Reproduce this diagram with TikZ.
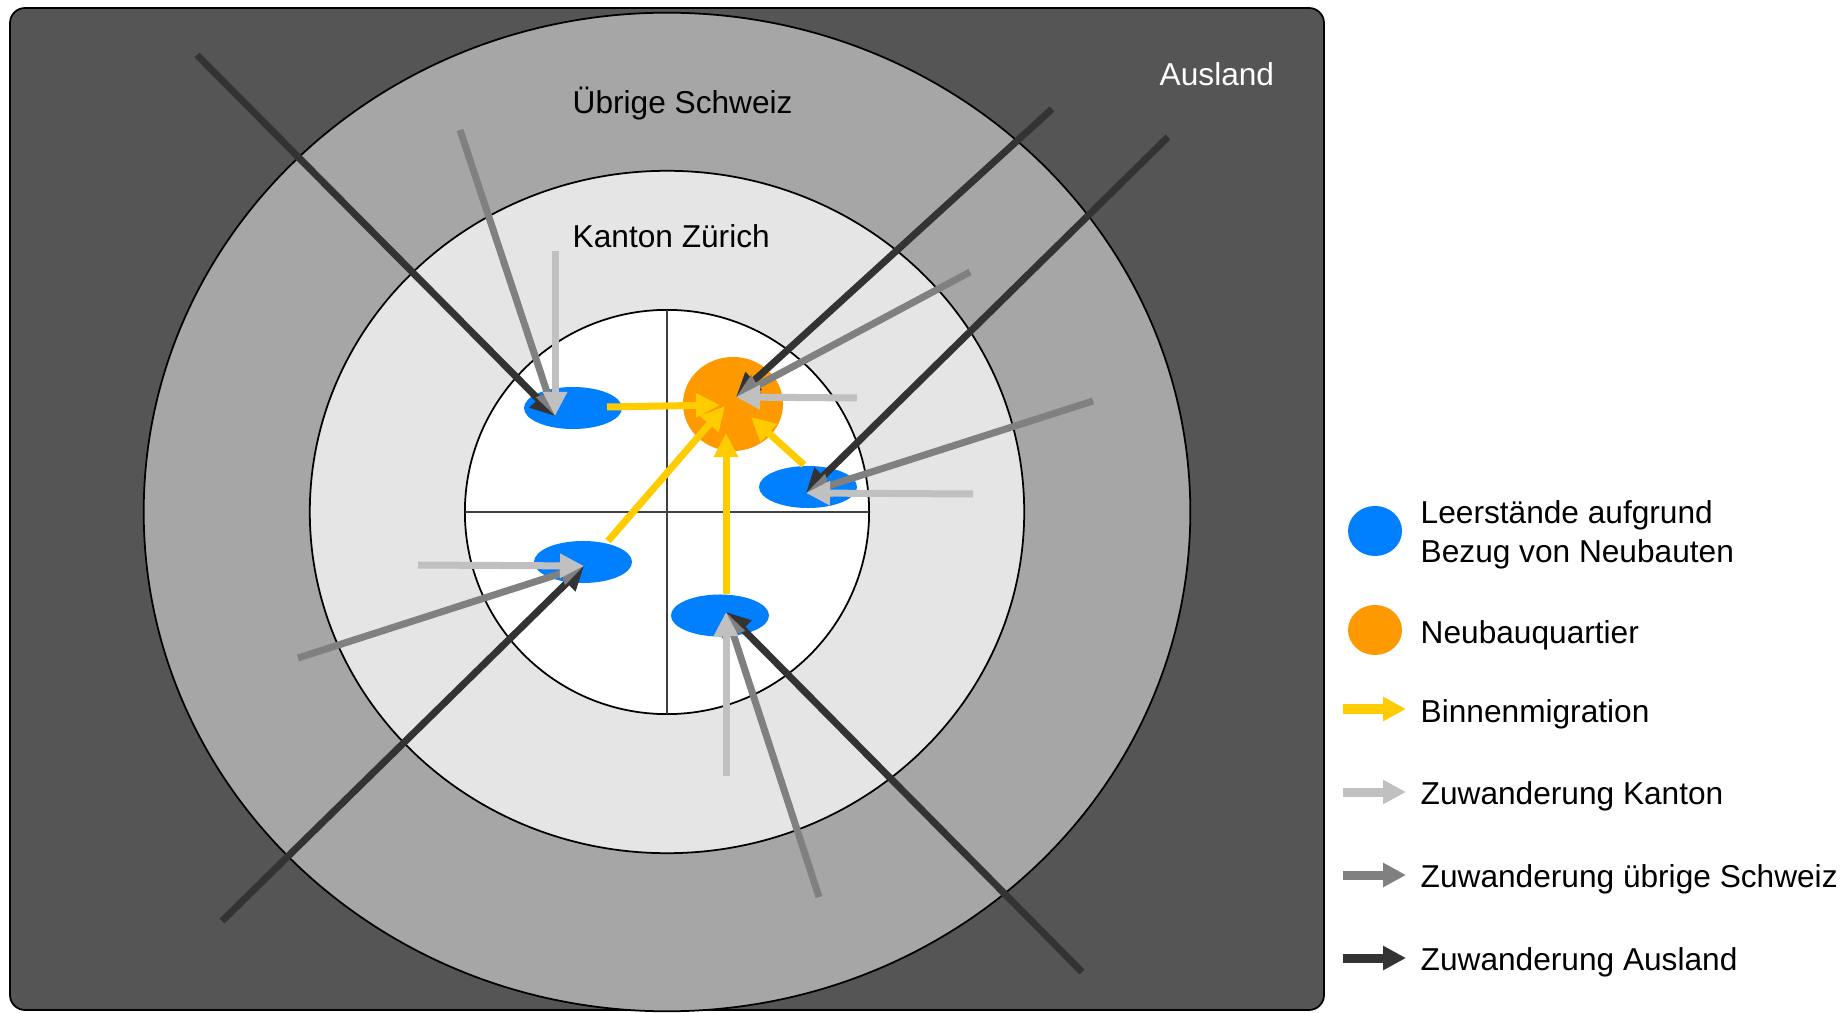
\documentclass[tikz,border=0pt]{standalone}
\usepackage{fontspec}
\setmainfont{Liberation Sans}
\usetikzlibrary{arrows.meta,shapes.geometric}

\definecolor{cAusland}{HTML}{555555}
\definecolor{cSchweiz}{HTML}{A6A6A6}
\definecolor{cKanton}{HTML}{E5E5E5}
\definecolor{cLeer}{HTML}{0080FF}
\definecolor{cNeubau}{HTML}{FF9900}
\definecolor{cBinnen}{HTML}{FFCC00}
\definecolor{cHell}{HTML}{C0C0C0}
\definecolor{cMittel}{HTML}{808080}
\definecolor{cDunkel}{HTML}{333333}

\begin{document}
\begin{tikzpicture}[x=0.01cm,y=-0.01cm,
		font=\fontsize{9}{11}\selectfont,
		pfeil/.style={line width=0.07cm,-{Triangle[length=0.24cm,width=0.23cm]}},
		legpfeil/.style={line width=0.09cm,-{Triangle[length=0.23cm,width=0.23cm]}},
		leer/.style={ellipse,fill=cLeer,inner sep=0pt,minimum width=0.98cm,minimum height=0.42cm},
		neubau/.style={ellipse,fill=cNeubau,inner sep=0pt,minimum width=1.0cm,minimum height=0.94cm},
		txt/.style={anchor=base west,inner sep=0pt}]
		
		\useasboundingbox (0,0) rectangle (1843,1013);
		
		\draw[fill=cAusland,rounded corners=0.15cm,line width=0.5pt] (10,8) rectangle (1324,1010);
		\draw[fill=cSchweiz,line width=0.5pt] (667,512) ellipse [x radius=5.23cm,y radius=4.99cm];
		\draw[fill=cKanton,line width=0.5pt] (667,512) ellipse [x radius=3.57cm,y radius=3.41cm];
		\draw[fill=white,line width=0.5pt] (667,512) circle [radius=2.02cm];
		\draw[black!75,line width=0.5pt] (667,310) -- (667,714);
		\draw[black!75,line width=0.5pt] (465,512) -- (869,512);
		
		\node[txt] (schweiz) at (572,114) {Übrige Schweiz};
		\node[txt] (kanton) at (572,248) {Kanton Zürich};
		\node[txt,text=white] (ausland) at (1159,86) {Ausland};
		
		\node[leer] (leerA) at (573,408) {};
		\node[leer] (leerB) at (808,487) {};
		\node[leer] (leerC) at (583,562) {};
		\node[leer] (leerD) at (720,615.5) {};
		\node[neubau] (quartier) at (733,404) {};
		
		\coordinate (zielA) at (555,416);
		\coordinate (zielQ) at (736,397);
		\coordinate (zielB) at (806,493);
		\coordinate (zielC) at (584,566);
		\coordinate (zielD) at (726,612);
		
		\coordinate (aA) at (197,55);
		\coordinate (aQ) at (1052,109);
		\coordinate (aB) at (1168,137);
		\coordinate (aC) at (222,921);
		\coordinate (aD) at (1082,972);
		
		\coordinate (sA) at (460,130);
		\coordinate (sQ) at (970,272);
		\coordinate (sB) at (1093,401);
		\coordinate (sC) at (298,658);
		\coordinate (sD) at (819,897);
		
		\coordinate (kA) at (555,251);
		\coordinate (kQ) at (857,398);
		\coordinate (kB) at (973,494);
		\coordinate (kC) at (418,565);
		\coordinate (kD) at (726,776);
		
		\coordinate (vonA) at (607,407);
		\coordinate (nachA) at (720,405);
		\coordinate (vonC) at (608,541);
		\coordinate (nachC) at (725,406);
		\coordinate (vonD) at (726,594);
		\coordinate (nachD) at (726,433);
		\coordinate (vonB) at (804,465);
		\coordinate (nachB) at (751,417);
		
		\draw[pfeil,cDunkel] (aA) -- (zielA);
		\draw[pfeil,cDunkel] (aQ) -- (zielQ);
		\draw[pfeil,cDunkel] (aB) -- (zielB);
		\draw[pfeil,cDunkel] (aC) -- (zielC);
		\draw[pfeil,cDunkel] (aD) -- (zielD);
		
		\draw[pfeil,cMittel] (sA) -- (zielA);
		\draw[pfeil,cMittel] (sQ) -- (zielQ);
		\draw[pfeil,cMittel] (sB) -- (zielB);
		\draw[pfeil,cMittel] (sC) -- (zielC);
		\draw[pfeil,cMittel] (sD) -- (zielD);
		
		\draw[pfeil,cHell] (kA) -- (zielA);
		\draw[pfeil,cHell] (kQ) -- (zielQ);
		\draw[pfeil,cHell] (kB) -- (zielB);
		\draw[pfeil,cHell] (kC) -- (zielC);
		\draw[pfeil,cHell] (kD) -- (zielD);
		
		\draw[pfeil,cBinnen] (vonA) -- (nachA);
		\draw[pfeil,cBinnen] (vonC) -- (nachC);
		\draw[pfeil,cBinnen] (vonD) -- (nachD);
		\draw[pfeil,cBinnen] (vonB) -- (nachB);
		
		\node[leer,minimum width=0.54cm,minimum height=0.50cm] (legLeer) at (1375,531) {};
		\node[neubau,minimum width=0.54cm,minimum height=0.50cm] (legNeubau) at (1375,630) {};
		\node[txt] (tLeer) at (1420,524) {Leerstände aufgrund};
		\node[txt] (tBezug) at (1420,563) {Bezug von Neubauten};
		\node[txt] (tNeubau) at (1420,643) {Neubauquartier};
		\node[txt] (tBinnen) at (1420,722) {Binnenmigration};
		\node[txt] (tKanton) at (1420,804) {Zuwanderung Kanton};
		\node[txt] (tSchweiz) at (1420,887) {Zuwanderung übrige Schweiz};
		\node[txt] (tAusland) at (1420,970) {Zuwanderung Ausland};
		
		\coordinate (l1a) at (1343,709);
		\coordinate (l1b) at (1406,709);
		\coordinate (l2a) at (1343,792);
		\coordinate (l2b) at (1406,792);
		\coordinate (l3a) at (1343,875);
		\coordinate (l3b) at (1406,875);
		\coordinate (l4a) at (1343,958);
		\coordinate (l4b) at (1406,958);
		
		\draw[legpfeil,cBinnen] (l1a) -- (l1b);
		\draw[legpfeil,cHell] (l2a) -- (l2b);
		\draw[legpfeil,cMittel] (l3a) -- (l3b);
		\draw[legpfeil,cDunkel] (l4a) -- (l4b);
		
	\end{tikzpicture}
\end{document}
